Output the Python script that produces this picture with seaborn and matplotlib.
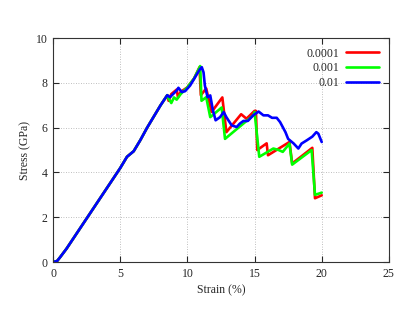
import numpy as np
import pandas as pd
import matplotlib
matplotlib.use("Agg")
import matplotlib.pyplot as plt
import seaborn as sns

# shared elastic part (strain %, stress GPa)
base_strain = [0, 0.3, 0.5, 1, 2, 3, 4, 5, 5.5, 6, 6.5, 7, 7.5, 8, 8.5]
base_stress = [0, 0.05, 0.2, 0.6, 1.5, 2.4, 3.3, 4.2, 4.7, 4.95, 5.45, 6.0, 6.5, 7.0, 7.45]

# strain rate 0.0001
red_strain = [8.6, 8.8, 9.0, 9.2, 9.3, 9.5, 10.0, 10.5, 10.9, 11.0, 11.4, 11.8, 12.6, 12.9,
              14.0, 14.4, 15.0, 15.1, 15.2, 15.9, 16.0, 17.6, 17.8, 19.3, 19.5, 20.0]
red_stress = [7.2, 7.5, 7.6, 7.7, 7.35, 7.6, 7.8, 8.2, 8.7, 7.45, 7.75, 6.7, 7.35, 5.8,
              6.6, 6.4, 6.75, 6.75, 5.0, 5.3, 4.77, 5.36, 4.4, 5.1, 2.85, 2.98]

# strain rate 0.001
green_strain = [8.6, 8.8, 9.0, 9.2, 9.5, 10.0, 10.5, 10.95, 11.05, 11.4, 11.7, 12.55, 12.8,
                14.9, 15.0, 15.35, 16.4, 16.8, 17.1, 17.6, 17.8, 19.25, 19.5, 20.0]
green_stress = [7.3, 7.1, 7.35, 7.25, 7.5, 7.8, 8.2, 8.75, 7.2, 7.36, 6.47, 6.9, 5.5,
                6.55, 6.7, 4.7, 5.07, 5.0, 4.92, 5.29, 4.35, 5.0, 3.0, 3.1]

# strain rate 0.01
blue_strain = [8.7, 9.2, 9.33, 9.58, 9.83, 10.2, 10.94, 11.07, 11.2, 11.3, 11.5, 11.7, 11.9,
               12.1, 12.43, 12.7, 12.9, 13.3, 13.67, 13.9, 14.17, 14.5, 14.9, 15.3, 15.66,
               16.0, 16.3, 16.65, 16.9, 17.3, 17.5, 17.9, 18.26, 18.5, 18.9, 19.3, 19.6,
               19.75, 20.0]
blue_stress = [7.36, 7.66, 7.78, 7.59, 7.63, 7.88, 8.62, 8.7, 8.47, 7.88, 7.36, 7.44, 6.77,
               6.33, 6.47, 6.7, 6.47, 6.1, 6.03, 6.18, 6.3, 6.3, 6.55, 6.72, 6.55,
               6.55, 6.44, 6.44, 6.25, 5.8, 5.5, 5.3, 5.07, 5.29, 5.44, 5.6, 5.8,
               5.73, 5.36]

labels = ["0.0001", "0.001", "0.01"]
colors = ["#ff0000", "#00ff00", "#0000ff"]

sns.set_style("ticks")
plt.rcParams["font.family"] = ["Liberation Serif", "DejaVu Serif"]

fig = plt.figure(figsize=(4.15, 3.12), dpi=100)
ax = fig.add_axes([0.128, 0.160, 0.809, 0.718])

series = [(red_strain, red_stress), (green_strain, green_stress), (blue_strain, blue_stress)]
for (xs, ys), lab, col in zip(series, labels, colors):
    df = pd.DataFrame({"Strain": base_strain + xs, "Stress": base_stress + ys})
    sns.lineplot(data=df, x="Strain", y="Stress", sort=False, color=col, lw=1.9,
                 label=lab, ax=ax)

ax.set_xlim(0, 25)
ax.set_ylim(0, 10)
ax.set_xticks([0, 5, 10, 15, 20, 25])
ax.set_yticks([0, 2, 4, 6, 8, 10])
ax.grid(True, linestyle=(0, (1, 2)), color="#aaaaaa", lw=0.6)
ax.tick_params(direction="in", top=True, right=True, labelsize=8.5, length=4, width=0.8, pad=4)
for s in ax.spines.values():
    s.set_linewidth(0.8)
    s.set_color("#333333")
ax.set_xlabel("Strain (%)", fontsize=8.5, labelpad=3)
ax.set_ylabel("Stress (GPa)", fontsize=8.5, labelpad=3)

ax.legend(loc="upper right", frameon=False, markerfirst=False, fontsize=8.5,
          handlelength=2.8, handletextpad=0.6, labelspacing=0.25,
          borderaxespad=0.4)

fig.savefig("out.png", dpi=100)
